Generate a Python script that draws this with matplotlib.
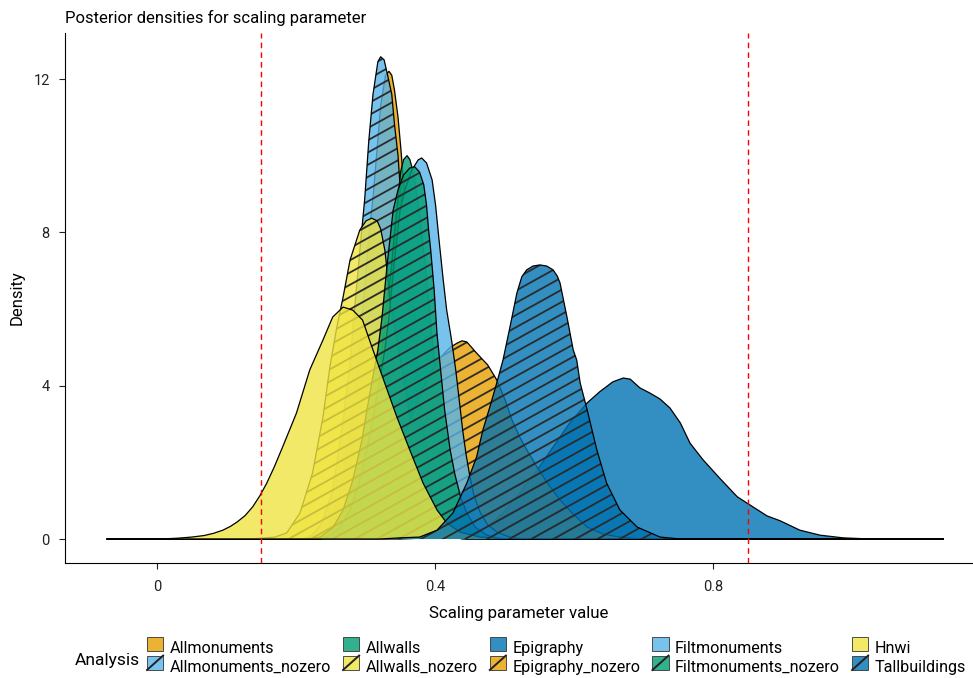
import numpy as np
import matplotlib
matplotlib.use('Agg')
import matplotlib.pyplot as plt
from matplotlib.patches import Polygon, Rectangle, Patch
from matplotlib.collections import LineCollection
from matplotlib.legend_handler import HandlerBase
from matplotlib.lines import Line2D

plt.rcParams['font.family'] = ['Roboto', 'DejaVu Sans']

# density curves (x = scaling parameter value, y = density)
allmon_x = [-0.072, 0.220, 0.235, 0.249, 0.263, 0.278, 0.289, 0.298, 0.305, 0.311, 0.317, 0.322, 0.329, 0.334,
            0.338, 0.342, 0.347, 0.351, 0.355, 0.360, 0.367, 0.376, 0.384, 0.396, 0.410, 0.427, 0.445, 1.132]
allmon_y = [0, 0, 0.1, 0.4, 1.2, 2.8, 4.6, 6.3, 7.9, 8.9, 10.2, 11.3, 12.1, 12.2,
            12.1, 11.7, 11.0, 10.2, 9.3, 8.4, 6.7, 4.7, 3.0, 1.5, 0.5, 0.1, 0, 0]

allmon_nz_x = [-0.072, 0.209, 0.223, 0.237, 0.252, 0.266, 0.278, 0.286, 0.294, 0.299, 0.305, 0.311, 0.318, 0.322,
               0.327, 0.332, 0.338, 0.342, 0.347, 0.350, 0.354, 0.361, 0.370, 0.378, 0.390, 0.404, 0.422, 0.439, 1.132]
allmon_nz_y = [0, 0, 0.1, 0.4, 1.2, 2.8, 4.6, 6.3, 7.9, 8.85, 10.4, 11.6, 12.45, 12.58,
               12.5, 12.1, 11.6, 10.8, 10.0, 9.2, 8.4, 6.6, 4.6, 2.9, 1.4, 0.45, 0.1, 0, 0]

allwalls_x = [-0.072, 0.235, 0.256, 0.271, 0.285, 0.299, 0.311, 0.321, 0.329, 0.337, 0.342, 0.347, 0.351, 0.355,
              0.360, 0.364, 0.370, 0.377, 0.386, 0.394, 0.403, 0.412, 0.422, 0.433, 0.447, 0.465, 0.486, 1.132]
allwalls_y = [0, 0, 0.1, 0.35, 0.85, 1.8, 3.0, 4.4, 5.8, 7.0, 8.0, 8.9, 9.6, 9.9,
              10.0, 9.9, 9.5, 8.6, 7.2, 5.6, 4.1, 2.8, 1.6, 0.8, 0.3, 0.08, 0, 0]

allwalls_nz_x = [-0.072, 0.134, 0.170, 0.187, 0.206, 0.224, 0.239, 0.249, 0.259, 0.268, 0.278, 0.292, 0.301, 0.309,
                 0.317, 0.322, 0.328, 0.332, 0.335, 0.344, 0.354, 0.365, 0.378, 0.393, 0.410, 0.429, 0.450, 0.479, 1.132]
allwalls_nz_y = [0, 0, 0.05, 0.16, 0.68, 1.72, 3.18, 4.49, 5.53, 6.31, 7.28, 8.06, 8.30, 8.37,
                 8.30, 8.09, 7.54, 6.89, 6.24, 5.32, 4.28, 3.10, 2.06, 1.15, 0.50, 0.16, 0.03, 0, 0]

epig_x = [-0.072, 0.350, 0.393, 0.426, 0.475, 0.498, 0.522, 0.547, 0.570, 0.594, 0.619, 0.637, 0.656, 0.671, 0.681,
          0.695, 0.709, 0.724, 0.738, 0.753, 0.767, 0.786, 0.810, 0.835, 0.853, 0.878, 0.896, 0.925, 0.954, 0.987,
          1.026, 1.132]
epig_y = [0, 0, 0.03, 0.05, 0.31, 0.68, 1.20, 1.80, 2.40, 3.03, 3.55, 3.84, 4.10, 4.20, 4.17,
          3.94, 3.81, 3.65, 3.42, 3.03, 2.50, 2.06, 1.58, 1.10, 0.89, 0.60, 0.48, 0.23, 0.10, 0.03,
          0, 0]

epig_nz_x = [-0.072, 0.235, 0.256, 0.278, 0.299, 0.318, 0.335, 0.350, 0.364, 0.378, 0.393, 0.407, 0.422, 0.432,
             0.439, 0.446, 0.460, 0.476, 0.489, 0.501, 0.511, 0.522, 0.534, 0.547, 0.563, 0.580, 0.599, 0.619,
             0.642, 0.666, 0.695, 1.132]
epig_nz_y = [0, 0, 0.05, 0.23, 0.63, 1.15, 1.80, 2.45, 3.10, 3.76, 4.28, 4.72, 5.00, 5.11,
             5.17, 5.14, 4.85, 4.54, 4.15, 3.63, 3.10, 2.66, 2.27, 1.88, 1.43, 1.02, 0.65, 0.31,
             0.13, 0.05, 0, 0]

filt_x = [-0.072, 0.223, 0.245, 0.263, 0.278, 0.292, 0.305, 0.317, 0.328, 0.334, 0.341, 0.350, 0.357, 0.367, 0.376,
          0.381, 0.388, 0.396, 0.401, 0.406, 0.412, 0.417, 0.424, 0.430, 0.435, 0.440, 0.445, 0.450, 0.456,
          0.465, 0.476, 0.491, 0.511, 0.529, 1.132]
filt_y = [0, 0, 0.05, 0.29, 0.76, 1.54, 2.58, 3.76, 4.93, 5.79, 7.10, 8.58, 9.11, 9.63, 9.89,
          9.94, 9.81, 9.37, 8.71, 7.80, 6.76, 5.97, 5.19, 4.41, 3.63, 2.84, 2.19, 1.67, 1.15,
          0.70, 0.37, 0.16, 0.03, 0, 0]

filt_nz_x = [-0.072, 0.213, 0.235, 0.253, 0.268, 0.282, 0.295, 0.306, 0.318, 0.324, 0.331, 0.340, 0.347, 0.355,
             0.364, 0.371, 0.378, 0.384, 0.388, 0.391, 0.394, 0.399, 0.403, 0.409, 0.414, 0.422, 0.429, 0.437,
             0.446, 0.458, 0.475, 0.494, 1.132]
filt_nz_y = [0, 0, 0.05, 0.29, 0.76, 1.54, 2.58, 3.76, 4.93, 5.79, 7.10, 8.58, 9.11, 9.50,
             9.68, 9.71, 9.57, 9.24, 8.71, 8.06, 7.54, 6.50, 5.37, 4.28, 3.37, 2.32, 1.67, 1.10,
             0.68, 0.31, 0.10, 0, 0]

hnwi_x = [-0.072, 0.005, 0.029, 0.050, 0.068, 0.082, 0.095, 0.106, 0.116, 0.127, 0.138, 0.148, 0.158, 0.169,
          0.181, 0.201, 0.220, 0.239, 0.253, 0.268, 0.282, 0.296, 0.311, 0.331, 0.345, 0.364, 0.383, 0.403,
          0.417, 0.436, 0.465, 0.508, 1.132]
hnwi_y = [0, 0, 0.02, 0.05, 0.09, 0.15, 0.23, 0.33, 0.45, 0.61, 0.84, 1.12, 1.45, 1.88,
          2.40, 3.29, 4.41, 5.19, 5.79, 6.05, 5.97, 5.71, 4.93, 3.91, 3.20, 2.32, 1.46, 0.76,
          0.42, 0.18, 0.05, 0, 0]

tall_x = [-0.072, 0.321, 0.350, 0.378, 0.403, 0.426, 0.446, 0.460, 0.469, 0.479, 0.489, 0.498, 0.508, 0.518, 0.525,
          0.532, 0.541, 0.551, 0.561, 0.570, 0.576, 0.580, 0.590, 0.599, 0.604, 0.609, 0.619, 0.633, 0.647,
          0.666, 0.691, 0.724, 0.753, 1.132]
tall_y = [0, 0, 0.03, 0.05, 0.23, 0.68, 1.46, 2.14, 2.84, 3.44, 4.07, 4.67, 5.53, 6.42, 6.84,
          7.02, 7.12, 7.15, 7.12, 7.02, 6.86, 6.68, 5.79, 4.93, 4.67, 4.07, 3.37, 2.32, 1.46,
          0.76, 0.31, 0.05, 0, 0]

analyses = ['Allmonuments', 'Allmonuments_nozero', 'Allwalls', 'Allwalls_nozero', 'Epigraphy',
            'Epigraphy_nozero', 'Filtmonuments', 'Filtmonuments_nozero', 'Hnwi', 'Tallbuildings']
curves = [(allmon_x, allmon_y), (allmon_nz_x, allmon_nz_y), (allwalls_x, allwalls_y),
          (allwalls_nz_x, allwalls_nz_y), (epig_x, epig_y), (epig_nz_x, epig_nz_y),
          (filt_x, filt_y), (filt_nz_x, filt_nz_y), (hnwi_x, hnwi_y), (tall_x, tall_y)]
colours = ['#E69F00', '#56B4E9', '#009E73', '#F0E442', '#0072B2',
           '#E69F00', '#56B4E9', '#009E73', '#F0E442', '#0072B2']
hatched = [False, True, False, True, False, True, False, True, False, True]
bounds = [0.15, 0.85]

fig = plt.figure(figsize=(9.73, 6.78), dpi=100)
ax = fig.add_axes([65 / 973, 115 / 678, 908 / 973, 530 / 678])
ax.set_xlim(-0.132, 1.174)
ax.set_ylim(-0.626, 13.2)
W, H = 908.0, 530.0


def add_stripes(ax, patch, z):
    ang = np.radians(29)
    d = np.array([np.cos(ang), np.sin(ang)])
    n = np.array([-np.sin(ang), np.cos(ang)])
    diag = np.hypot(W, H)
    c0 = np.array([W / 2, H / 2])
    segs = []
    for k in np.arange(-diag, diag, 10.7):
        c = c0 + k * n
        p0 = c - d * diag
        p1 = c + d * diag
        segs.append([(p0[0] / W, p0[1] / H), (p1[0] / W, p1[1] / H)])
    lc = LineCollection(segs, colors='#2b2b2b', linewidths=1.3, transform=ax.transAxes, zorder=z)
    ax.add_collection(lc, autolim=False)
    lc.set_clip_path(patch)


for i, ((xs, ys), col, hat) in enumerate(zip(curves, colours, hatched)):
    z = 2 + i
    poly = Polygon(np.column_stack([xs, ys]), closed=True, facecolor=col, alpha=0.8,
                   edgecolor='none', zorder=z)
    ax.add_patch(poly)
    if hat:
        add_stripes(ax, poly, z + 0.3)
    ax.plot(xs, ys, color='black', lw=0.9, zorder=z + 0.6, solid_capstyle='butt')

for b in bounds:
    ax.axvline(b, color='red', ls=(0, (4, 3)), lw=1.0, zorder=20)

for s in ['top', 'right']:
    ax.spines[s].set_visible(False)
for s in ['left', 'bottom']:
    ax.spines[s].set_linewidth(0.8)
ax.set_xticks([0, 0.4, 0.8])
ax.set_xticklabels(['0', '0.4', '0.8'])
ax.set_yticks([0, 4, 8, 12])
ax.tick_params(length=4, width=0.8, labelsize=10.5, colors='#222222')
ax.tick_params(axis='x', pad=8)
ax.tick_params(axis='y', pad=7)
ax.set_xlabel('Scaling parameter value', fontsize=12.2, labelpad=9)
ax.set_ylabel('Density', fontsize=12, labelpad=6)
fig.text(65 / 973, 1 - 18 / 678, 'Posterior densities for scaling parameter', fontsize=12,
         ha='left', va='center')


class KeyHandler(HandlerBase):
    def create_artists(self, legend, orig, xd, yd, w, h, fontsize, trans):
        r = Rectangle((xd, yd), w, h, facecolor=orig.get_facecolor(), edgecolor='#333333',
                      lw=0.6, transform=trans)
        arts = [r]
        if orig.get_hatch():
            arts.append(Line2D([xd, xd + w], [yd, yd + h], color='#222222', lw=1.4, transform=trans))
        return arts


handles = [Patch(facecolor=matplotlib.colors.to_rgba(c, 0.8), hatch='/' if h else None, label=a)
           for a, c, h in zip(analyses, colours, hatched)]
leg = fig.legend(handles=handles, ncol=5, loc='upper left', bbox_to_anchor=(147 / 973, 1 - 640 / 678),
                 frameon=False, fontsize=11.6, handlelength=1.0, handleheight=1.0, handletextpad=0.4,
                 columnspacing=0.75, labelspacing=0.2, borderpad=0, borderaxespad=0,
                 handler_map={Patch: KeyHandler()})
fig.text(75 / 973, 1 - 661 / 678, 'Analysis', fontsize=12.5, ha='left', va='center')

fig.savefig('out.png', dpi=100)
